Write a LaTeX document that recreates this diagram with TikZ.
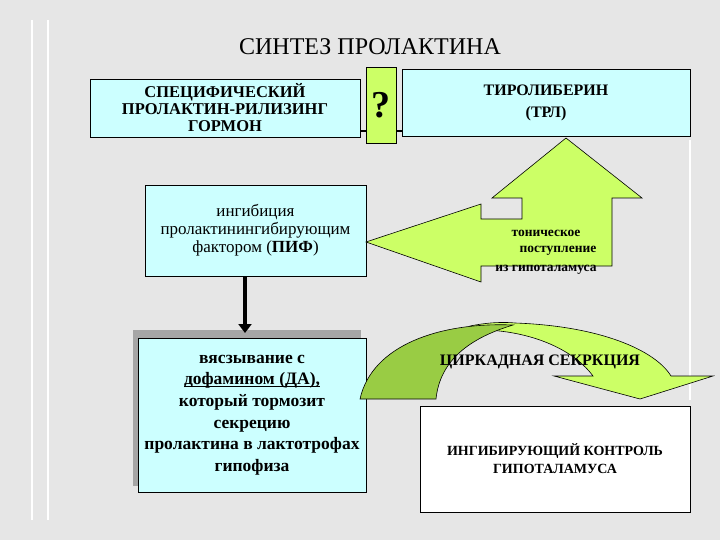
\documentclass[tikz,border=0pt]{standalone}
\usepackage{fontspec}
\setmainfont{Liberation Serif}
\usetikzlibrary{arrows.meta}
\definecolor{cy}{HTML}{CCFFFF}
\definecolor{yg}{HTML}{CCFF66}
\definecolor{dg}{HTML}{99CC44}
\definecolor{bg}{HTML}{E6E6E6}
\begin{document}
\begin{tikzpicture}[x=1pt,y=-1pt,
  box/.style={draw=black,line width=0.8pt,fill=cy,align=center,font=\bfseries,inner sep=0pt}]
\useasboundingbox (0,0) rectangle (720,540);
\fill[bg] (0,0) rectangle (720,540);
\draw[white,line width=1.5pt] (32,20)--(32,520) (48,20)--(48,520) (690,140)--(690,400);
\node[font=\fontsize{24}{28}\selectfont] (title) at (370,47) {СИНТЕЗ ПРОЛАКТИНА};
\draw[line width=1.5pt] (360,131)--(402,131);
\node[box,minimum width=270,minimum height=58,font=\bfseries\fontsize{16.5}{17}\selectfont] (b1) at (225,108) {СПЕЦИФИЧЕСКИЙ\\ПРОЛАКТИН-РИЛИЗИНГ\\ГОРМОН};
\node[box,fill=yg,minimum width=30,minimum height=76,font=\bfseries\fontsize{38}{40}\selectfont] (q) at (381,105) {?};
\node[box,minimum width=288,minimum height=67,font=\bfseries\fontsize{16}{22}\selectfont] (b3) at (546,103) {ТИРОЛИБЕРИН\\(ТРЛ)};
\node[box,minimum width=221,minimum height=91,font=\fontsize{17}{18}\selectfont] (pif) at (255.5,230.5) {ингибиция\\пролактинингибирующим\\фактором (\textbf{ПИФ})};
\fill[gray!70] (133,330) rectangle (361,486);
\node[box,minimum width=228,minimum height=154,font=\bfseries\fontsize{17.5}{21.6}\selectfont] (da) at (252,415) {вясзывание с\\\underline{\smash{дофамином (ДА),}}\\который тормозит\\секрецию\\пролактина в лактотрофах\\гипофиза};
\draw[line width=4pt,-{Triangle[length=9pt,width=13pt]}] (pif.south -| 245,0) -- (245,333);
\draw[fill=yg,line width=0.6pt] (366,242)--(481,204)--(481,219)--(522,219)--(522,198)--(492,198)--(566,138)--(642,198)--(612,198)--(612,266)--(481,266)--(481,282)--cycle;
\node[font=\bfseries\fontsize{13.5}{15}\selectfont] (t1) at (546,233) {тоническое};
\node[font=\bfseries\fontsize{13.5}{15}\selectfont] (t2) at (558,251) {поступление};
\node[font=\bfseries\fontsize{13.5}{15}\selectfont] (t3) at (546,270) {из гипоталамуса};
\draw[fill=yg,line width=0.6pt] (470,326) .. controls (490,322) and (505,322) .. (515,323) .. controls (600,326) and (655,350) .. (671,376) -- (713,376) -- (640,399) -- (554,376) -- (593,376) .. controls (570,345) and (520,328) .. (470,330) -- cycle;
\draw[fill=dg,line width=0.6pt] (360,399) .. controls (372,345) and (440,322) .. (513,325) .. controls (470,338) and (440,360) .. (436,399) -- cycle;
\node[font=\bfseries\fontsize{16}{18}\selectfont] (cs) at (540,362) {ЦИРКАДНАЯ СЕКРКЦИЯ};
\node[box,fill=white,minimum width=270,minimum height=106,font=\bfseries\fontsize{14}{18}\selectfont] (ic) at (555,459) {ИНГИБИРУЮЩИЙ КОНТРОЛЬ\\ГИПОТАЛАМУСА};
\end{tikzpicture}
\end{document}
